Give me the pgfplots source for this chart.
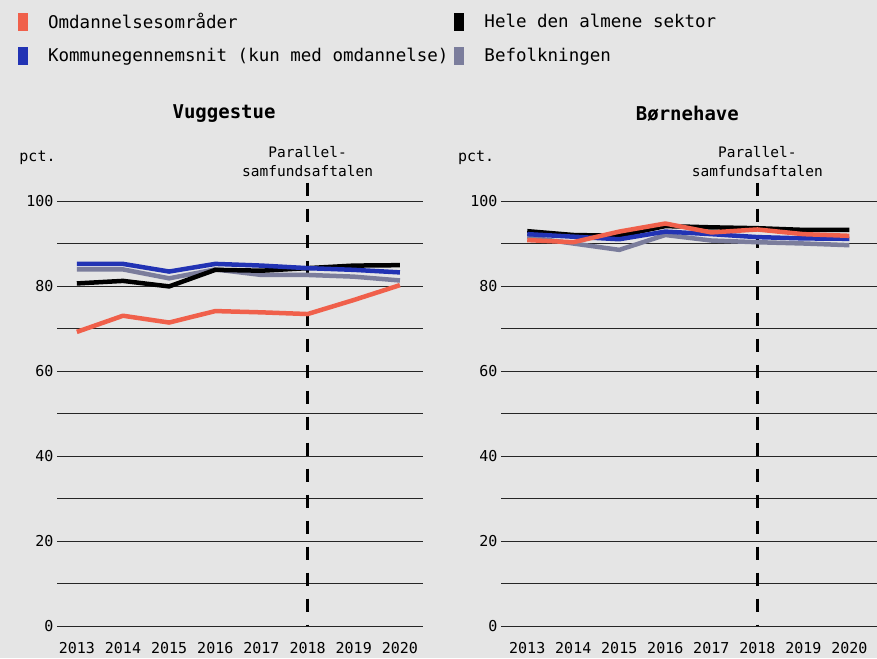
\documentclass[border=0pt]{standalone}
\usepackage{fontspec}
\setmainfont{DejaVu Sans Mono}
\usepackage{pgfplots}
\pgfplotsset{compat=1.18}
\definecolor{bg}{HTML}{E5E5E5}
\definecolor{omred}{HTML}{F0604B}
\definecolor{komblue}{HTML}{2233B4}
\definecolor{befgray}{HTML}{7B7D9C}

% Vuggestue
\pgfplotstableread{
year omr hele kom bef
2013 69.2 80.6 85.2 83.9
2014 73.0 81.2 85.2 83.9
2015 71.4 79.9 83.4 81.8
2016 74.1 83.8 85.2 83.9
2017 73.8 83.6 84.8 82.6
2018 73.4 84.2 84.2 82.6
2019 76.7 84.8 83.8 82.2
2020 80.2 84.9 83.2 81.3
}\vugge
% Boernehave
\pgfplotstableread{
year omr hele kom bef
2013 90.8 92.9 92.2 91.5
2014 90.3 92.0 91.6 90.0
2015 92.8 91.8 91.0 88.5
2016 94.7 94.1 92.8 92.0
2017 92.6 93.8 92.2 90.7
2018 93.3 93.6 91.5 90.3
2019 92.2 93.2 91.2 90.0
2020 91.8 93.2 91.1 89.6
}\boern

\pgfplotsset{
  panel/.style={
    scale only axis, height=425pt,
    ymin=0, ymax=100,
    xtick={2013,...,2020},
    ytick={0,20,...,100}, minor ytick={10,30,...,90},
    ymajorgrids, yminorgrids,
    grid style={black!85, line width=0.8pt},
    minor grid style={black!85, line width=0.8pt},
    axis line style={draw=none},
    major tick length=0pt, minor tick length=0pt,
    /pgf/number format/assume math mode=true,
    x tick label style={/pgf/number format/1000 sep={}, yshift=-13pt},
    tick label style={font=\fontsize{15}{18}\selectfont},
    clip=false,
    every axis plot/.append style={line width=4.5pt, line join=round, mark=none},
  },
  sq/.style={legend image code/.code={\path[fill=#1, draw=none] (0pt,-9.5pt) rectangle (10pt,8.5pt);}},
}

\begin{document}
\begin{tikzpicture}
\fill[bg] (0,0) rectangle (877pt,658pt);

\begin{axis}[panel, width=366pt, xmin=2012.57, xmax=2020.5,
  at={(57pt,32pt)}, anchor=south west,
  legend columns=2,
  legend cell align=left,
  legend style={at={(-0.115,1.452)}, anchor=north west, draw=none, fill=none,
    font=\fontsize{17.5}{20}\selectfont, row sep=14pt,
    /tikz/every odd column/.append style={column sep=18pt},
    /tikz/every even column/.append style={column sep=4pt}},
]
\addlegendimage{sq=omred}
\addlegendentry{Omdannelsesområder}
\addlegendimage{sq=black}
\addlegendentry{Hele den almene sektor}
\addlegendimage{sq=komblue}
\addlegendentry{Kommunegennemsnit (kun med omdannelse)}
\addlegendimage{sq=befgray}
\addlegendentry{Befolkningen}

\addplot[forget plot, black, line width=2.5pt, dash pattern=on 13pt off 13pt] coordinates {(2018,104.3) (2018,0)};
\addplot[forget plot, befgray] table[x=year, y=bef] {\vugge};
\addplot[forget plot, black] table[x=year, y=hele] {\vugge};
\addplot[forget plot, komblue] table[x=year, y=kom] {\vugge};
\addplot[forget plot, omred] table[x=year, y=omr] {\vugge};

\node[font=\bfseries\fontsize{19}{22}\selectfont] at (axis cs:2016.19,120.6) {Vuggestue};
\node[anchor=west, font=\fontsize{15}{18}\selectfont] at (axis cs:2011.68,110.1) {pct.};
\node[align=center, font=\fontsize{14.5}{19}\selectfont] at (axis cs:2018,109.3) {Parallel-\\samfundsaftalen};
\end{axis}

\begin{axis}[panel, width=376pt, xmin=2012.43, xmax=2020.6,
  at={(501pt,32pt)}, anchor=south west]
\addplot[forget plot, black, line width=2.5pt, dash pattern=on 13pt off 13pt] coordinates {(2018,104.3) (2018,0)};
\addplot[forget plot, befgray] table[x=year, y=bef] {\boern};
\addplot[forget plot, black] table[x=year, y=hele] {\boern};
\addplot[forget plot, komblue] table[x=year, y=kom] {\boern};
\addplot[forget plot, omred] table[x=year, y=omr] {\boern};

\node[font=\bfseries\fontsize{19}{22}\selectfont] at (axis cs:2016.48,120.6) {Børnehave};
\node[anchor=west, font=\fontsize{15}{18}\selectfont] at (axis cs:2011.42,110.1) {pct.};
\node[align=center, font=\fontsize{14.5}{19}\selectfont] at (axis cs:2018,109.3) {Parallel-\\samfundsaftalen};
\end{axis}

\pgfresetboundingbox
\path[use as bounding box] (0,0) rectangle (877pt,658pt);
\end{tikzpicture}
\end{document}
